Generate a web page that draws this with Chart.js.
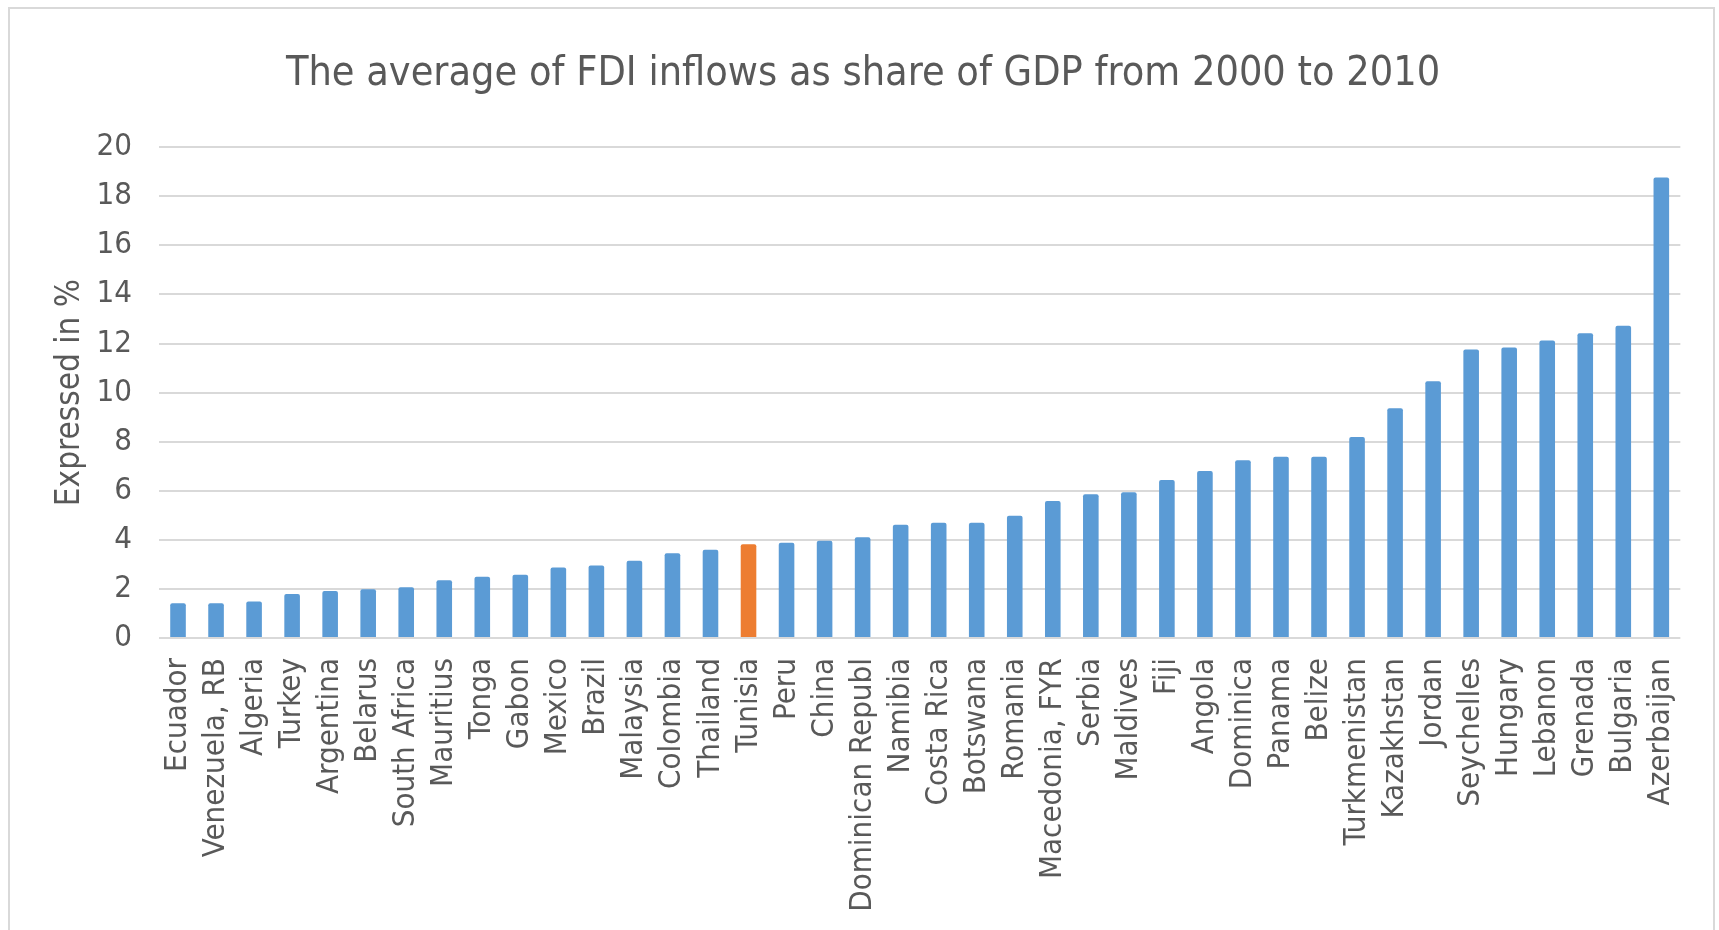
<!DOCTYPE html>
<html>
<head>
<meta charset="utf-8">
<script src="https://cdn.jsdelivr.net/npm/chart.js@4.4.1/dist/chart.umd.min.js"></script>
<style>
    body { margin: 0; background: #ffffff; }
    #wrap { position: relative; width: 1719px; height: 930px; }
    #frame { position: absolute; left: 8px; top: 7px; width: 1703px; height: 940px; border: 2px solid #d9d9d9; }
</style>
</head>
<body>
<div id="wrap">
    <div id="frame"></div>
    <canvas id="fdiChart" width="1719" height="930"></canvas>
</div>
<script>
// average FDI inflows (% of GDP), 2000-2010
const countries = ["Ecuador", "Venezuela, RB", "Algeria", "Turkey", "Argentina", "Belarus", "South Africa",
    "Mauritius", "Tonga", "Gabon", "Mexico", "Brazil", "Malaysia", "Colombia", "Thailand", "Tunisia", "Peru",
    "China", "Dominican Republ", "Namibia", "Costa Rica", "Botswana", "Romania", "Macedonia, FYR", "Serbia",
    "Maldives", "Fiji", "Angola", "Dominica", "Panama", "Belize", "Turkmenistan", "Kazakhstan", "Jordan",
    "Seychelles", "Hungary", "Lebanon", "Grenada", "Bulgaria", "Azerbaijan"];

const fdiShare = [1.42, 1.42, 1.49, 1.79, 1.92, 1.99, 2.07, 2.35, 2.50, 2.58, 2.87, 2.95, 3.15, 3.45, 3.60,
    3.82, 3.88, 3.96, 4.11, 4.61, 4.70, 4.70, 4.98, 5.58, 5.86, 5.94, 6.44, 6.81, 7.24, 7.39, 7.39, 8.19,
    9.36, 10.46, 11.76, 11.84, 12.12, 12.42, 12.72, 18.77];

const yTicks = [0, 2, 4, 6, 8, 10, 12, 14, 16, 18, 20];

const highlighted = "Tunisia";
const blue = "#5b9bd5";
const orange = "#ed7d31";
const textColor = "#595959";
const fontFamily = "'Liberation Sans Narrow', 'DejaVu Sans Condensed', Lato, sans-serif";

let barColors = countries.map(c => c === highlighted ? orange : blue);

const ctx = document.getElementById('fdiChart').getContext('2d');

const fdiChart = new Chart(ctx, {
    type: 'bar',
    data: {
        labels: countries,
        datasets: [
            {
                data: fdiShare,
                backgroundColor: barColors,
                borderRadius: { topLeft: 2, topRight: 2 },
                borderSkipped: 'bottom',
                barPercentage: 0.41,
                categoryPercentage: 1.0,
            },
        ],
    },
    options: {
        responsive: false,
        animation: false,
        layout: {
            padding: { left: 45, right: 38, top: 0, bottom: 0 },
        },
        plugins: {
            legend: { display: false },
            tooltip: { enabled: false },
            title: {
                display: true,
                text: 'The average of FDI inflows as share of GDP from 2000 to 2010',
                color: textColor,
                font: { family: fontFamily, size: 41, weight: 'normal' },
                padding: { top: 50, bottom: 48 },
            },
        },
        scales: {
            x: {
                grid: { display: false, drawTicks: false },
                border: { display: false },
                ticks: {
                    color: textColor,
                    font: { family: fontFamily, size: 31 },
                    autoSkip: false,
                    maxRotation: 90,
                    minRotation: 90,
                    padding: 20,
                },
                afterFit: (scale) => { scale.height = 292; },
            },
            y: {
                min: 0,
                max: 20,
                afterBuildTicks: (scale) => { scale.ticks = yTicks.map(v => ({ value: v })); },
                grid: { color: '#d9d9d9', lineWidth: 2, drawTicks: false },
                border: { display: false },
                ticks: {
                    color: textColor,
                    font: { family: fontFamily, size: 31 },
                    padding: 27,
                },
                title: {
                    display: true,
                    text: 'Expressed in %',
                    color: textColor,
                    font: { family: fontFamily, size: 33 },
                    padding: { top: 6, bottom: 0 },
                },
                afterFit: (scale) => { scale.width = 114; },
            },
        },
    },
});
</script>
</body>
</html>
